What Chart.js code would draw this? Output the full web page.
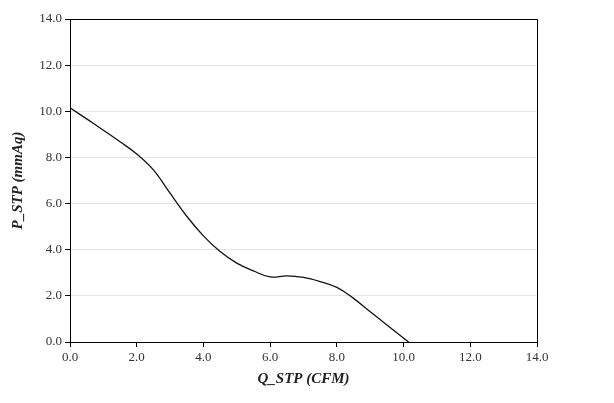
<!DOCTYPE html>
<html lang="en">
<head>
    <meta charset="UTF-8">
    <title>P_STP vs Q_STP</title>
    <script src="https://cdn.jsdelivr.net/npm/chart.js"></script>
    <style>
        html, body { margin: 0; padding: 0; background: #fff; }
        #wrap { width: 614px; height: 403px; }
    </style>
</head>
<body>
    <div id="wrap"><canvas id="curveChart"></canvas></div>

    <script>
        // curve (Q in CFM, P in mmAq)
        const qValues = [0, 0.5, 1, 1.5, 2, 2.5, 3, 3.5, 4, 4.5, 5, 5.5, 6, 6.5, 7, 7.5, 8, 8.5, 9, 9.5, 10.15];
        const pValues = [10.15, 9.67, 9.18, 8.68, 8.15, 7.46, 6.45, 5.45, 4.6, 3.92, 3.42, 3.08, 2.82, 2.87, 2.8, 2.62, 2.37, 1.89, 1.31, 0.74, 0];
        const xTitle = 'Q_STP (CFM)';
        const yTitle = 'P_STP (mmAq)';

        const points = qValues.map((q, i) => ({ x: q, y: pValues[i] }));

        // box around plot area (top and right edges)
        const frame = {
            id: 'frame',
            afterDatasetsDraw(chart) {
                const a = chart.chartArea;
                const c = chart.ctx;
                c.save();
                c.strokeStyle = '#000';
                c.lineWidth = 1;
                c.beginPath();
                c.moveTo(a.left, a.top + 0.5);
                c.lineTo(a.right + 0.5, a.top + 0.5);
                c.lineTo(a.right + 0.5, a.bottom);
                c.stroke();
                c.restore();
            }
        };

        const serif = "'Liberation Serif', 'DejaVu Serif', serif";

        const ctx = document.getElementById('curveChart').getContext('2d');
        const chart = new Chart(ctx, {
            type: 'line',
            data: {
                datasets: [{
                    data: points,
                    borderColor: '#111',
                    borderWidth: 1.3,
                    pointRadius: 0,
                    fill: false,
                    tension: 0.4
                }]
            },
            options: {
                responsive: true,
                maintainAspectRatio: false,
                animation: false,
                layout: { padding: { left: 0, top: 19, right: 77, bottom: 0 } },
                plugins: { legend: { display: false }, tooltip: { enabled: false } },
                scales: {
                    x: {
                        type: 'linear',
                        min: 0,
                        max: 14,
                        afterFit: s => { s.height = 61; },
                        ticks: {
                            stepSize: 2,
                            color: '#333',
                            padding: 3,
                            font: { family: serif, size: 13 },
                            callback: v => v.toFixed(1)
                        },
                        grid: { drawOnChartArea: false, tickLength: 5, tickColor: '#000' },
                        border: { color: '#000', width: 1 },
                        title: {
                            display: true,
                            text: xTitle,
                            color: '#222',
                            padding: { top: 4, bottom: 15 },
                            font: { family: serif, size: 15, style: 'italic', weight: 'bold' }
                        }
                    },
                    y: {
                        min: 0,
                        max: 14,
                        afterFit: s => { s.width = 70; },
                        ticks: {
                            stepSize: 2,
                            color: '#333',
                            padding: 3,
                            font: { family: serif, size: 13 },
                            callback: v => v.toFixed(1)
                        },
                        grid: { color: '#e3e3e3', tickLength: 5, tickColor: '#000' },
                        border: { color: '#000', width: 1 },
                        title: {
                            display: true,
                            text: yTitle,
                            color: '#222',
                            padding: { top: 9, bottom: 4 },
                            font: { family: serif, size: 15, style: 'italic', weight: 'bold' }
                        }
                    }
                }
            },
            plugins: [frame]
        });
    </script>
</body>
</html>
